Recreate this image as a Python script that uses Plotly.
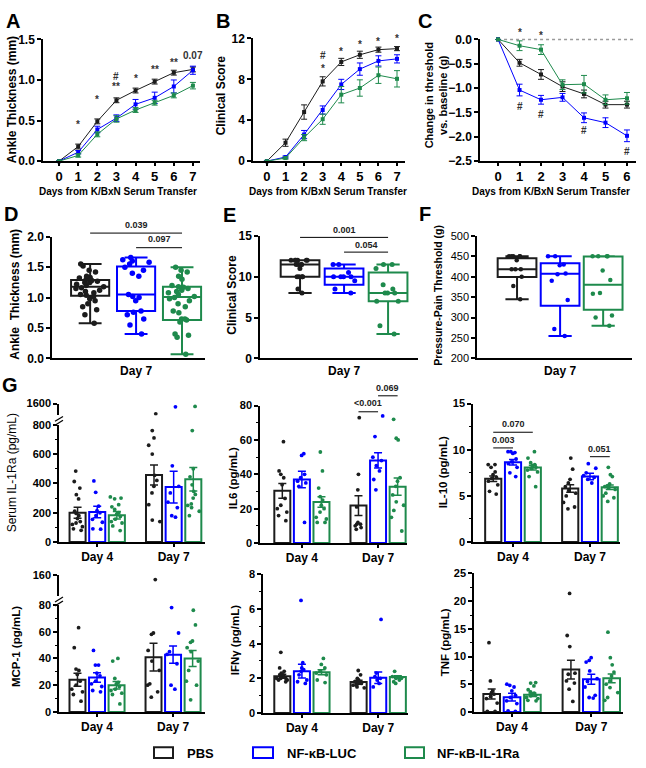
import plotly.graph_objects as go

W, H = 646, 768
FONT = 'Liberation Sans'
BLACK = '#1c1c1c'
BLUE = '#0000ff'
GREEN = '#1e8a4c'
COLORS = [BLACK, BLUE, GREEN]
GROUPS = ['PBS', 'NF-κB-LUC', 'NF-κB-IL-1Ra']

# ---------------- Panel A: ankle thickness time course ----------------
A_days = [0, 1, 2, 3, 4, 5, 6, 7]
A_pbs = [0, 0.18, 0.49, 0.75, 0.87, 0.98, 1.09, 1.13]
A_luc = [0, 0.11, 0.39, 0.53, 0.70, 0.78, 0.92, 1.12]
A_ra = [0, 0.07, 0.33, 0.52, 0.63, 0.72, 0.81, 0.93]
A_pbs_sem = [0, 0.03, 0.03, 0.03, 0.03, 0.03, 0.03, 0.03]
A_luc_sem = [0, 0.02, 0.04, 0.04, 0.06, 0.07, 0.08, 0.05]
A_ra_sem = [0, 0.02, 0.03, 0.04, 0.03, 0.03, 0.03, 0.04]
A_marks = [(1, 0.45, '*'), (2, 0.76, '*'), (3, 0.92, '**'), (3, 1.04, '#'),
           (4, 1.02, '*'), (5, 1.13, '**'), (6, 1.22, '**'), (7, 1.30, '0.07')]

# ---------------- Panel B: clinical score time course ----------------
B_days = [0, 1, 2, 3, 4, 5, 6, 7]
B_pbs = [0, 1.8, 4.8, 7.8, 9.7, 10.4, 10.9, 11.0]
B_luc = [0, 0.4, 2.6, 5.0, 7.5, 9.0, 9.8, 10.0]
B_ra = [0, 0.3, 2.3, 4.1, 6.5, 7.15, 8.4, 8.05]
B_pbs_sem = [0, 0.35, 0.7, 0.45, 0.35, 0.35, 0.25, 0.2]
B_luc_sem = [0, 0.1, 0.4, 0.4, 0.5, 0.6, 0.5, 0.4]
B_ra_sem = [0, 0.1, 0.3, 0.5, 0.8, 0.8, 0.8, 0.8]
B_marks = [(3, 9.1, '*'), (3, 10.3, '#'), (4, 10.7, '*'), (5, 11.4, '*'),
           (6, 11.7, '*'), (7, 12.0, '*')]

# ---------------- Panel C: pain threshold change ----------------
C_days = [0, 1, 2, 3, 4, 5, 6]
C_pbs = [0, -0.48, -0.72, -0.97, -1.12, -1.34, -1.34]
C_luc = [0, -1.04, -1.24, -1.19, -1.61, -1.71, -1.98]
C_ra = [0, -0.13, -0.21, -0.93, -0.92, -1.24, -1.21]
C_pbs_sem = [0, 0.07, 0.1, 0.1, 0.08, 0.07, 0.07]
C_luc_sem = [0, 0.12, 0.09, 0.08, 0.1, 0.1, 0.12]
C_ra_sem = [0, 0.1, 0.1, 0.1, 0.18, 0.1, 0.12]
C_marks = [(1, 0.14, '*'), (2, 0.08, '*'), (1, -1.37, '#'), (2, -1.55, '#'),
           (4, -1.88, '#'), (6, -2.3, '#')]

# ---------------- Panels D-F: Day 7 box plots (q1, median, q3, min, max) ----------------
D_stats = [(1.03, 1.18, 1.29, 0.58, 1.55), (0.78, 1.05, 1.51, 0.40, 1.66), (0.63, 1.01, 1.18, 0.07, 1.50)]
D_pbs = [1.55, 1.52, 1.45, 1.42, 1.35, 1.33, 1.32, 1.30, 1.28, 1.27, 1.25, 1.25, 1.22, 1.20, 1.18,
         1.16, 1.15, 1.12, 1.10, 1.08, 1.05, 1.04, 1.02, 0.98, 0.95, 0.90, 0.85, 0.80, 0.72, 0.58]
D_luc = [1.66, 1.62, 1.60, 1.58, 1.55, 1.50, 1.45, 1.40, 1.35, 1.05, 1.02, 1.00, 0.95, 0.78,
         0.76, 0.72, 0.65, 0.55, 0.40]
D_ra = [1.50, 1.45, 1.42, 1.35, 1.30, 1.20, 1.18, 1.17, 1.15, 1.12, 1.10, 1.08, 1.05, 1.02, 1.00,
        0.98, 0.95, 0.90, 0.85, 0.78, 0.75, 0.65, 0.65, 0.63, 0.60, 0.40, 0.38, 0.35, 0.07]
D_brackets = [(0, 2, 2.06, 2.20, '0.039'), (1, 2, 1.82, 1.97, '0.097')]

E_stats = [(10.0, 11.5, 12.0, 8.0, 12.0), (9.0, 10.0, 11.0, 8.0, 11.5), (7.0, 8.0, 10.5, 3.0, 11.5)]
E_pbs = [12, 12, 12, 12, 12, 12, 11.5, 11.5, 11.5, 11.5, 11, 10, 10, 10, 10, 8.5, 8]
E_luc = [11.5, 11.5, 10.5, 10, 10, 10, 10, 9.5, 8.5, 8]
E_ra = [11.5, 11.5, 11, 9, 8.5, 8, 8, 8, 7, 7, 4, 3]
E_brackets = [(0, 2, 14.8, 15.7, '0.001'), (1, 2, 13.0, 13.9, '0.054')]

F_stats = [(399, 418, 445, 345, 450), (329, 407, 433, 255, 450), (319, 380, 449, 280, 450)]
F_pbs = [450, 450, 450, 450, 450, 440, 418, 418, 418, 400, 377, 345]
F_luc = [450, 450, 430, 428, 408, 406, 390, 343, 272, 255]
F_ra = [450, 450, 450, 450, 415, 392, 360, 358, 305, 300, 280]

# ---------------- Panel G: serum cytokines (mean, SEM, points) Day 4 / Day 7 ----------------
IL1RA_mean = [[200, 457], [205, 375], [183, 428]]
IL1RA_sem = [[38, 68], [40, 108], [25, 80]]
IL1RA_pts = [[[484, 413, 368, 323, 294, 210, 195, 180, 160, 140, 130, 120, 105, 90, 80],
              [760, 710, 660, 600, 455, 420, 380, 335, 255, 150, 140]],
             [[417, 339, 245, 215, 200, 180, 155, 135, 90, 88],
              [520, 380, 335, 272, 235, 180, 170]],
             [[308, 300, 295, 255, 240, 222, 200, 190, 175, 156, 140, 130, 110, 78],
              [760, 500, 445, 390, 345, 325, 300, 260, 250, 235, 210, 180]]]
IL1RA_pts_high = [[950], [1400], [1420]]   # Day 7 values above the axis break

IL6_mean = [[30.4, 21.8], [37.0, 48.1], [23.9, 32.8]]
IL6_sem = [[4.3, 5.7], [4.8, 4.4], [3.0, 5.0]]
IL6_pts = [[[59, 42, 40, 38, 34, 26, 22, 20, 18, 16, 13], [73, 40, 31, 21, 12, 11, 11, 10, 9, 8]],
           [[52, 51, 40, 38, 36, 35, 33, 12], [74, 62, 50, 48, 45, 42, 37, 31]],
           [[53, 42, 32, 27, 25, 22, 20, 18, 15, 14, 12, 12], [72, 61, 60, 38, 36, 33, 28, 24, 22, 19, 15, 7]]]
IL6_brackets = [(1, 0, 1, 1, 76.4, 81.5, '<0.001'), (1, 1, 1, 2, 85.7, 90.5, '0.069')]

IL10_mean = [[6.86, 5.8], [8.64, 7.1], [8.07, 5.94]]
IL10_sem = [[0.3, 0.4], [0.3, 0.35], [0.25, 0.25]]
IL10_pts = [[[8.4, 8.4, 8.1, 7.6, 7.3, 7.0, 6.9, 6.6, 6.2, 5.5, 5.2], [9.1, 7.9, 6.8, 6.4, 6.0, 5.6, 5.3, 5.0, 4.3, 3.8, 3.6]],
            [[9.8, 9.8, 9.7, 9.6, 9.0, 8.7, 8.5, 8.1, 7.5, 7.1], [8.5, 8.0, 7.5, 7.2, 7.0, 6.8, 6.4]],
            [[9.8, 9.1, 8.6, 8.4, 8.3, 8.1, 8.0, 7.8, 7.6, 7.1, 6.0], [8.1, 7.3, 7.1, 6.3, 6.1, 6.0, 5.9, 5.7, 5.3, 5.0, 4.8, 4.4]]]
IL10_brackets = [(0, 0, 0, 1, 10.2, 11.1, '0.003'), (0, 0, 0, 2, 11.9, 12.8, '0.070'),
                 (1, 1, 1, 2, 9.25, 10.1, '0.051')]

MCP1_mean = [[24.0, 40.9], [25.7, 42.8], [20.0, 39.9]]
MCP1_sem = [[4.9, 10.4], [3.5, 6.5], [2.8, 6.0]]
MCP1_pts = [[[63, 48, 32, 31, 28, 23, 20, 17, 15, 13, 8], [59, 58, 46, 38, 31, 21, 20, 15, 11]],
            [[46, 35, 35, 29, 27, 23, 21, 19, 16, 15], [78, 59, 45, 43, 36, 20, 17]],
            [[40, 38, 25, 22, 21, 19, 17, 16, 14, 13, 6], [76, 65, 53, 52, 48, 45, 38, 31, 23, 20, 9]]]
MCP1_pts_high = [[148], [], []]

IFNG_mean = [[2.12, 1.78], [2.41, 2.03], [2.35, 2.07]]
IFNG_sem = [[0.12, 0.1], [0.4, 0.33], [0.15, 0.08]]
IFNG_pts = [[[3.5, 2.6, 2.4, 2.3, 2.2, 2.2, 2.1, 2.1, 2.0, 2.0, 1.9, 1.9, 1.8, 2.0, 2.1],
             [2.45, 2.2, 2.0, 1.9, 1.8, 1.75, 1.7, 1.6, 1.6, 1.5, 1.45, 1.8, 1.7]],
            [[6.5, 2.9, 2.6, 2.5, 2.4, 2.2, 1.9, 1.8, 1.7], [5.4, 2.3, 2.1, 2.0, 1.9, 1.7, 1.5]],
            [[3.15, 2.8, 2.6, 2.4, 2.3, 2.2, 1.9, 1.75], [2.4, 2.1, 2.0, 2.0, 1.9, 1.8, 1.7]]]

TNF_mean = [[3.24, 7.65], [2.65, 5.88], [3.1, 6.06]]
TNF_sem = [[0.9, 1.7], [0.7, 0.9], [0.3, 0.8]]
TNF_pts = [[[12.5, 5.6, 3.8, 3.5, 3.2, 2.8, 2.4, 1.6, 0.1, 0.1], [21.4, 13.8, 11.8, 7.0, 6.8, 5.6, 5.2, 4.1, 1.9]],
           [[5.0, 4.8, 4.5, 3.8, 3.0, 2.6, 2.0, 1.5, 0.2, 0.1], [9.8, 9.3, 9.0, 7.4, 6.0, 5.5, 4.5, 3.0, 2.6, 2.5]],
           [[5.3, 5.2, 4.7, 4.0, 3.6, 3.4, 3.2, 3.0, 2.9, 2.6, 2.4, 2.1, 2.0],
            [14.4, 9.8, 8.5, 7.2, 6.5, 5.6, 5.0, 4.4, 3.5, 2.6, 2.1]]]

DAY_LABELS = ['Day 4', 'Day 7']

# ================= figure construction =================
fig = go.Figure()
layout = {}
AX = {}
shapes = []
annotations = []
count = [0]


def px2x(p):
    return p / W


def px2y(p):
    return 1 - p / H


def tfont(size=11, weight='bold'):
    return dict(family=FONT, size=size, color='black', weight=weight)


def base_axis():
    return dict(showline=True, linecolor='black', linewidth=1.5, showgrid=False, zeroline=False,
                ticks='outside', ticklen=4, tickwidth=1.5, tickcolor='black',
                tickfont=tfont(11), fixedrange=True)


def add_axes(xpx, ypx, xr, yr, xkw=None, ykw=None):
    count[0] += 1
    s = '' if count[0] == 1 else str(count[0])
    xa = base_axis()
    ya = base_axis()
    xa.update(domain=[px2x(xpx[0]), px2x(xpx[1])], range=xr, anchor='y' + s)
    ya.update(domain=[px2y(ypx[0]), px2y(ypx[1])], range=yr, anchor='x' + s)
    if xkw:
        xa.update(xkw)
    if ykw:
        ya.update(ykw)
    layout['xaxis' + s] = xa
    layout['yaxis' + s] = ya
    key = 'x' + s
    AX[key] = dict(xd=xa['domain'], xr=xr, yd=ya['domain'], yr=yr)
    return 'x' + s, 'y' + s


def pX(key, v):
    a = AX[key]
    return a['xd'][0] + (v - a['xr'][0]) / (a['xr'][1] - a['xr'][0]) * (a['xd'][1] - a['xd'][0])


def pY(key, v):
    a = AX[key]
    return a['yd'][0] + (v - a['yr'][0]) / (a['yr'][1] - a['yr'][0]) * (a['yd'][1] - a['yd'][0])


def text(t, x, y, size=11, bold=True, angle=0, color='black', xanchor='center', yanchor='middle'):
    annotations.append(dict(text=t, x=x, y=y, xref='paper', yref='paper', showarrow=False,
                            textangle=angle, xanchor=xanchor, yanchor=yanchor,
                            font=dict(family=FONT, size=size, color=color,
                                      weight='bold' if bold else 'normal')))


def hline(key, x0, x1, y, color='black', width=1, dash=None):
    ln = dict(color=color, width=width)
    if dash:
        ln['dash'] = dash
    shapes.append(dict(type='line', xref='paper', yref='paper', x0=pX(key, x0), x1=pX(key, x1),
                       y0=pY(key, y), y1=pY(key, y), line=ln, layer='above'))


def line_panel(xa, ya, days, series, sems, marks):
    for g in range(3):
        fig.add_trace(go.Scatter(x=days, y=series[g], xaxis=xa, yaxis=ya, mode='lines+markers',
                                 line=dict(color=COLORS[g], width=1),
                                 marker=dict(symbol='square', size=4, color=COLORS[g]),
                                 error_y=dict(type='data', array=sems[g], color=COLORS[g],
                                              thickness=1, width=3),
                                 cliponaxis=False, showlegend=False, name=GROUPS[g]))
    for d, v, t in marks:
        text(t, pX(xa, d), pY(xa, v), size=10, bold=True, color='#333333')


def box_panel(xa, ya, stats, pts, width, size):
    for g in range(3):
        q1, med, q3, lo, hi = stats[g]
        fig.add_trace(go.Box(x=[g], q1=[q1], median=[med], q3=[q3], lowerfence=[lo], upperfence=[hi],
                             width=width, xaxis=xa, yaxis=ya, boxpoints=False, whiskerwidth=0.6,
                             line=dict(color=COLORS[g], width=2), fillcolor='rgba(255,255,255,0)',
                             showlegend=False, name=GROUPS[g]))
        fig.add_trace(go.Box(x0=g, y=pts[g], width=width * 0.85, xaxis=xa, yaxis=ya, boxpoints='all',
                             jitter=1.0, pointpos=0, line=dict(color='rgba(0,0,0,0)', width=0.1),
                             fillcolor='rgba(0,0,0,0)', marker=dict(color=COLORS[g], size=size),
                             showlegend=False, name=GROUPS[g]))


SP = 0.257
BW = 0.21


def bar_panel(xa, ya, means, sems, pts, xa_hi=None, ya_hi=None, pts_hi=None):
    for g in range(3):
        fig.add_trace(go.Bar(x=[0, 1], y=means[g], width=BW, offset=(g - 1) * SP - BW / 2,
                             xaxis=xa, yaxis=ya,
                             marker=dict(color='rgba(255,255,255,0)', line=dict(color=COLORS[g], width=2)),
                             error_y=dict(type='data', array=sems[g], color=COLORS[g], thickness=1.5, width=4),
                             showlegend=False, name=GROUPS[g]))
    for g in range(3):
        xs, ys = [], []
        for d in range(2):
            xs += [d + (g - 1) * SP] * len(pts[g][d])
            ys += pts[g][d]
        fig.add_trace(go.Box(x=xs, y=ys, width=BW * 0.85, xaxis=xa, yaxis=ya, boxpoints='all',
                             jitter=1.0, pointpos=0, line=dict(color='rgba(0,0,0,0)', width=0.1),
                             fillcolor='rgba(0,0,0,0)', marker=dict(color=COLORS[g], size=3.8),
                             showlegend=False, name=GROUPS[g]))
        if pts_hi is not None and pts_hi[g]:
            fig.add_trace(go.Box(x=[1 + (g - 1) * SP] * len(pts_hi[g]), y=pts_hi[g], width=BW * 0.85,
                                 xaxis=xa_hi, yaxis=ya_hi, boxpoints='all', jitter=0.5, pointpos=0,
                                 line=dict(color='rgba(0,0,0,0)', width=0.1), fillcolor='rgba(0,0,0,0)',
                                 marker=dict(color=COLORS[g], size=3.8), showlegend=False, name=GROUPS[g]))


def bracket_g(key, d0, g0, d1, g1, yline, ytext, label):
    x0 = d0 + (g0 - 1) * SP
    x1 = d1 + (g1 - 1) * SP
    hline(key, x0, x1, yline)
    text(label, (pX(key, x0) + pX(key, x1)) / 2, pY(key, ytext), size=9, bold=True, color='#222222')


def break_marks(xpx, ypx):
    for dy in (0, 4):
        shapes.append(dict(type='line', xref='paper', yref='paper',
                           x0=px2x(xpx - 4), y0=px2y(ypx + 2 + dy), x1=px2x(xpx + 4), y1=px2y(ypx - 3 + dy),
                           line=dict(color='black', width=1.2)))


line_x = dict(tickfont=tfont(13), ticklen=3)

# ---- A
xa, ya = add_axes((43, 200), (157, 33), [-0.84, 7.37], [0, 1.5],
                  dict(line_x, tickvals=A_days),
                  dict(tickvals=[0, 0.5, 1.0, 1.5], tickformat='.1f', tickfont=tfont(12)))
line_panel(xa, ya, A_days, [A_pbs, A_luc, A_ra], [A_pbs_sem, A_luc_sem, A_ra_sem], A_marks)
text('Ankle Thickness (mm)', px2x(12), px2y(95), size=12, angle=-90)
text('Days from K/BxN Serum Transfer', px2x(118), px2y(188), size=10)

# ---- B
xa, ya = add_axes((253, 405), (157, 32), [-0.75, 7.43], [0, 12],
                  dict(line_x, tickvals=B_days),
                  dict(tickvals=[0, 4, 8, 12], tickfont=tfont(12)))
line_panel(xa, ya, B_days, [B_pbs, B_luc, B_ra], [B_pbs_sem, B_luc_sem, B_ra_sem], B_marks)
text('Clinical Score', px2x(221), px2y(90), size=12, angle=-90)
text('Days from K/BxN Serum Transfer', px2x(328), px2y(188), size=10)

# ---- C
xa, ya = add_axes((480, 636), (157, 33), [-0.84, 6.42], [-2.5, 0],
                  dict(line_x, tickvals=C_days),
                  dict(tickvals=[-2.5, -2.0, -1.5, -1.0, -0.5, 0.0], tickformat='.1f', tickfont=tfont(12)))
hline(xa, 0, 6.3, 0, color='#9a9a9a', width=1.5, dash='dot')
shapes[-1]['layer'] = 'below'
line_panel(xa, ya, C_days, [C_pbs, C_luc, C_ra], [C_pbs_sem, C_luc_sem, C_ra_sem], C_marks)
text('Change in threshold<br>vs. baseline (g)', px2x(436), px2y(90), size=11, angle=-90)
text('Days from K/BxN Serum Transfer', px2x(551), px2y(188), size=10)

# ---- D
box_x = dict(tickvals=[1], ticktext=['Day 7'], ticks='', tickfont=tfont(12))
xa, ya = add_axes((52, 205), (358, 234), [-0.83, 2.5], [0, 2.0], box_x,
                  dict(tickvals=[0, 0.5, 1.0, 1.5, 2.0], tickformat='.1f', tickfont=tfont(12)))
box_panel(xa, ya, D_stats, [D_pbs, D_luc, D_ra], 0.83, 5.5)
for g0, g1, yl, yt, lab in D_brackets:
    hline(xa, g0, g1, yl)
    text(lab, (pX(xa, g0) + pX(xa, g1)) / 2, pY(xa, yt), size=9, color='#222222')
text('Ankle  Thickness (mm)', px2x(15), px2y(293), size=12, angle=-90)

# ---- E
xa, ya = add_axes((260, 418), (358, 233), [-0.91, 2.68], [0, 15], box_x,
                  dict(tickvals=[0, 5, 10, 15], tickfont=tfont(12)))
box_panel(xa, ya, E_stats, [E_pbs, E_luc, E_ra], 0.88, 5)
for g0, g1, yl, yt, lab in E_brackets:
    hline(xa, g0, g1, yl)
    text(lab, (pX(xa, g0) + pX(xa, g1)) / 2, pY(xa, yt), size=9, color='#222222')
text('Clinical Score', px2x(232), px2y(293), size=12, angle=-90)

# ---- F
xa, ya = add_axes((477, 632), (358, 233), [-0.93, 2.67], [200, 500], box_x,
                  dict(tickvals=[200, 250, 300, 350, 400, 450, 500], tickfont=tfont(11, 'normal')))
box_panel(xa, ya, F_stats, [F_pbs, F_luc, F_ra], 0.9, 4.5)
text('Pressure-Pain Threshold (g)', px2x(438), px2y(293), size=10.5, angle=-90)

# ---- G panels
bar_x = dict(tickvals=[0, 1], ticktext=DAY_LABELS, ticklen=3, tickfont=tfont(12))
hi_x = dict(showline=False, ticks='', showticklabels=False)


def minor(d):
    return dict(ticks='outside', ticklen=2, tickwidth=1, tickcolor='black', dtick=d)


# IL-1Ra (broken axis)
xa, ya = add_axes((59, 205), (545, 425.5), [-0.5, 1.41], [0, 800], bar_x,
                  dict(tickvals=[0, 200, 400, 600, 800], minor=minor(100)))
xh, yh = add_axes((59, 205), (416, 404), [-0.5, 1.41], [850, 1600], hi_x, dict(tickvals=[1600]))
bar_panel(xa, ya, IL1RA_mean, IL1RA_sem, IL1RA_pts, xh, yh, IL1RA_pts_high)
break_marks(59, 420)
text('Serum IL-1Ra (pg/mL)', px2x(12), px2y(475), size=12, bold=False, angle=-90)
text('G', px2x(10), px2y(385), size=20)

# IL6
xa, ya = add_axes((260, 407), (546, 406), [-0.55, 1.38], [0, 80], bar_x,
                  dict(tickvals=[0, 20, 40, 60, 80], minor=minor(10)))
bar_panel(xa, ya, IL6_mean, IL6_sem, IL6_pts)
for b in IL6_brackets:
    bracket_g(xa, *b)
text('IL6 (pg/mL)', px2x(233), px2y(480), size=11.5, angle=-90)

# IL-10
xa, ya = add_axes((473, 620), (545, 404), [-0.52, 1.39], [0, 15], bar_x,
                  dict(tickvals=[0, 5, 10, 15], minor=minor(2.5)))
bar_panel(xa, ya, IL10_mean, IL10_sem, IL10_pts)
for b in IL10_brackets:
    bracket_g(xa, *b)
text('IL-10 (pg/mL)', px2x(443), px2y(474), size=11.5, angle=-90)

# MCP-1 (broken axis)
xa, ya = add_axes((59, 205), (718, 609), [-0.5, 1.42], [0, 80], bar_x,
                  dict(tickvals=[0, 20, 40, 60, 80], minor=minor(10)))
xh, yh = add_axes((59, 205), (600, 579), [-0.5, 1.42], [100, 160], hi_x, dict(tickvals=[160]))
bar_panel(xa, ya, MCP1_mean, MCP1_sem, MCP1_pts, xh, yh, MCP1_pts_high)
break_marks(59, 604)
text('MCP-1 (pg/mL)', px2x(16), px2y(652), size=11.5, angle=-90)

# IFN-gamma
xa, ya = add_axes((263, 408), (719, 578), [-0.51, 1.39], [0, 8], bar_x,
                  dict(tickvals=[0, 2, 4, 6, 8], minor=minor(1)))
bar_panel(xa, ya, IFNG_mean, IFNG_sem, IFNG_pts)
text('IFNγ (pg/mL)', px2x(235), px2y(645), size=11.5, angle=-90)

# TNF
xa, ya = add_axes((474, 623), (718, 577), [-0.48, 1.40], [0, 25], bar_x,
                  dict(tickvals=[0, 5, 10, 15, 20, 25], minor=minor(2.5)))
bar_panel(xa, ya, TNF_mean, TNF_sem, TNF_pts)
text('TNF (pg/mL)', px2x(445), px2y(647), size=11.5, angle=-90)

# ---- panel letters
for lab, x, y in [('A', 13, 14), ('B', 223, 14), ('C', 425, 14), ('D', 11, 211),
                  ('E', 229, 212), ('F', 425, 211)]:
    text(lab, px2x(x), px2y(y), size=20)

# ---- legend (drawn as shapes + text)
for (x0, x1, tx), g in zip([(154, 173, 185), (253, 273, 285), (405, 424, 435)], range(3)):
    shapes.append(dict(type='rect', xref='paper', yref='paper', x0=px2x(x0), x1=px2x(x1),
                       y0=px2y(765), y1=px2y(754), line=dict(color=COLORS[g], width=2),
                       fillcolor='white'))
    text(GROUPS[g], px2x(tx), px2y(760), size=13, xanchor='left')

layout.update(width=W, height=H, margin=dict(l=0, r=0, t=0, b=0), paper_bgcolor='white',
              plot_bgcolor='rgba(0,0,0,0)', showlegend=False, barmode='overlay', boxmode='overlay',
              shapes=shapes, annotations=annotations, font=dict(family=FONT, color='black'))
fig.update_layout(**layout)
fig.write_html('out.html', config={'displayModeBar': False},
               post_script="document.body.style.margin='0';document.body.style.overflow='hidden';")
